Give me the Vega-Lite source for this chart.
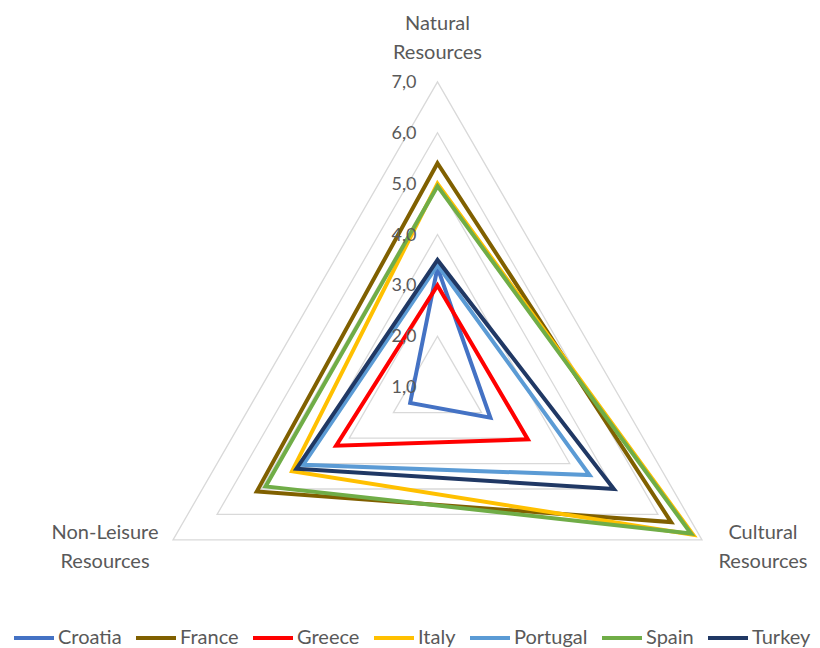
{
  "$schema": "https://vega.github.io/schema/vega-lite/v6.json",
  "width": 820,
  "height": 648,
  "autosize": {"type": "none"},
  "padding": 0,
  "background": "white",
  "config": {"view": {"stroke": null}, "font": "Lato"},
  "datasets": {
    "scores": [
      {"country": "Croatia", "axis": "Natural Resources", "value": 3.35},
      {"country": "Croatia", "axis": "Cultural Resources", "value": 2.2},
      {"country": "Croatia", "axis": "Non-Leisure Resources", "value": 1.62},
      {"country": "France", "axis": "Natural Resources", "value": 5.4},
      {"country": "France", "axis": "Cultural Resources", "value": 6.3},
      {"country": "France", "axis": "Non-Leisure Resources", "value": 5.1},
      {"country": "Greece", "axis": "Natural Resources", "value": 3.0},
      {"country": "Greece", "axis": "Cultural Resources", "value": 3.05},
      {"country": "Greece", "axis": "Non-Leisure Resources", "value": 3.3},
      {"country": "Italy", "axis": "Natural Resources", "value": 5.0},
      {"country": "Italy", "axis": "Cultural Resources", "value": 6.8},
      {"country": "Italy", "axis": "Non-Leisure Resources", "value": 4.3},
      {"country": "Portugal", "axis": "Natural Resources", "value": 3.4},
      {"country": "Portugal", "axis": "Cultural Resources", "value": 4.45},
      {"country": "Portugal", "axis": "Non-Leisure Resources", "value": 4.05},
      {"country": "Spain", "axis": "Natural Resources", "value": 4.95},
      {"country": "Spain", "axis": "Cultural Resources", "value": 6.75},
      {"country": "Spain", "axis": "Non-Leisure Resources", "value": 4.9},
      {"country": "Turkey", "axis": "Natural Resources", "value": 3.5},
      {"country": "Turkey", "axis": "Cultural Resources", "value": 5.0},
      {"country": "Turkey", "axis": "Non-Leisure Resources", "value": 4.2}
    ],
    "grid": [
      {"level": 2, "axis": "Natural Resources"}, {"level": 2, "axis": "Cultural Resources"}, {"level": 2, "axis": "Non-Leisure Resources"},
      {"level": 3, "axis": "Natural Resources"}, {"level": 3, "axis": "Cultural Resources"}, {"level": 3, "axis": "Non-Leisure Resources"},
      {"level": 4, "axis": "Natural Resources"}, {"level": 4, "axis": "Cultural Resources"}, {"level": 4, "axis": "Non-Leisure Resources"},
      {"level": 5, "axis": "Natural Resources"}, {"level": 5, "axis": "Cultural Resources"}, {"level": 5, "axis": "Non-Leisure Resources"},
      {"level": 6, "axis": "Natural Resources"}, {"level": 6, "axis": "Cultural Resources"}, {"level": 6, "axis": "Non-Leisure Resources"},
      {"level": 7, "axis": "Natural Resources"}, {"level": 7, "axis": "Cultural Resources"}, {"level": 7, "axis": "Non-Leisure Resources"}
    ],
    "ticks": [
      {"value": 1}, {"value": 2}, {"value": 3}, {"value": 4}, {"value": 5}, {"value": 6}, {"value": 7}
    ],
    "axes": [
      {"axis": "Natural Resources"},
      {"axis": "Cultural Resources"},
      {"axis": "Non-Leisure Resources"}
    ]
  },
  "layer": [
    {
      "data": {"name": "grid"},
      "transform": [
        {"calculate": "indexof(['Natural Resources','Cultural Resources','Non-Leisure Resources'], datum.axis)", "as": "k"},
        {"calculate": "(datum.level - 1) * sin(datum.k * 2 * PI / 3)", "as": "px"},
        {"calculate": "(datum.level - 1) * cos(datum.k * 2 * PI / 3)", "as": "py"}
      ],
      "mark": {"type": "line", "interpolate": "linear-closed", "stroke": "#D9D9D9", "strokeWidth": 1.3},
      "encoding": {
        "x": {"field": "px", "type": "quantitative", "axis": null, "scale": {"domain": [-8.5953, 7.5147], "nice": false, "zero": false}},
        "y": {"field": "py", "type": "quantitative", "axis": null, "scale": {"domain": [-5.1238, 7.6071], "nice": false, "zero": false}},
        "detail": {"field": "level", "type": "nominal"},
        "order": {"field": "k", "type": "quantitative"}
      }
    },
    {
      "data": {"name": "scores"},
      "transform": [
        {"calculate": "indexof(['Natural Resources','Cultural Resources','Non-Leisure Resources'], datum.axis)", "as": "k"},
        {"calculate": "(datum.value - 1) * sin(datum.k * 2 * PI / 3)", "as": "px"},
        {"calculate": "(datum.value - 1) * cos(datum.k * 2 * PI / 3)", "as": "py"}
      ],
      "mark": {"type": "line", "interpolate": "linear-closed", "strokeWidth": 4},
      "encoding": {
        "x": {"field": "px", "type": "quantitative"},
        "y": {"field": "py", "type": "quantitative"},
        "color": {
          "field": "country",
          "type": "nominal",
          "scale": {
            "domain": ["Croatia", "France", "Greece", "Italy", "Portugal", "Spain", "Turkey"],
            "range": ["#4472C4", "#806000", "#FF0000", "#FFC000", "#5B9BD5", "#70AD47", "#203864"]
          },
          "legend": {
            "orient": "none",
            "legendX": 12,
            "legendY": 616,
            "direction": "horizontal",
            "title": null,
            "symbolType": "stroke",
            "symbolSize": 1600,
            "symbolStrokeWidth": 4,
            "labelFontSize": 20,
            "labelFont": "Lato",
            "labelColor": "#595959",
            "labelOffset": 2,
            "columnPadding": 6
          }
        },
        "order": {"field": "k", "type": "quantitative"}
      }
    },
    {
      "data": {"name": "ticks"},
      "transform": [
        {"calculate": "datum.value - 1", "as": "py"},
        {"calculate": "0", "as": "px"},
        {"calculate": "replace(format(datum.value, '.1f'), '.', ',')", "as": "label"}
      ],
      "mark": {"type": "text", "align": "right", "baseline": "middle", "dx": -21, "dy": 1, "fontSize": 18, "color": "#595959"},
      "encoding": {
        "x": {"field": "px", "type": "quantitative"},
        "y": {"field": "py", "type": "quantitative"},
        "text": {"field": "label"}
      }
    },
    {
      "data": {"name": "axes"},
      "transform": [
        {"filter": "datum.axis == 'Natural Resources'"},
        {"calculate": "0", "as": "px"},
        {"calculate": "6", "as": "py"},
        {"calculate": "split(datum.axis, ' ')", "as": "label"}
      ],
      "mark": {"type": "text", "align": "center", "baseline": "middle", "dy": -58, "fontSize": 20, "lineHeight": 29, "color": "#595959"},
      "encoding": {
        "x": {"field": "px", "type": "quantitative"},
        "y": {"field": "py", "type": "quantitative"},
        "text": {"field": "label"}
      }
    },
    {
      "data": {"name": "axes"},
      "transform": [
        {"filter": "datum.axis == 'Cultural Resources'"},
        {"calculate": "6 * sin(2 * PI / 3)", "as": "px"},
        {"calculate": "6 * cos(2 * PI / 3)", "as": "py"},
        {"calculate": "split(datum.axis, ' ')", "as": "label"}
      ],
      "mark": {"type": "text", "align": "center", "baseline": "middle", "dx": 61, "dy": -7, "fontSize": 20, "lineHeight": 29, "color": "#595959"},
      "encoding": {
        "x": {"field": "px", "type": "quantitative"},
        "y": {"field": "py", "type": "quantitative"},
        "text": {"field": "label"}
      }
    },
    {
      "data": {"name": "axes"},
      "transform": [
        {"filter": "datum.axis == 'Non-Leisure Resources'"},
        {"calculate": "6 * sin(4 * PI / 3)", "as": "px"},
        {"calculate": "6 * cos(4 * PI / 3)", "as": "py"},
        {"calculate": "split(datum.axis, ' ')", "as": "label"}
      ],
      "mark": {"type": "text", "align": "center", "baseline": "middle", "dx": -68, "dy": -7, "fontSize": 20, "lineHeight": 29, "color": "#595959"},
      "encoding": {
        "x": {"field": "px", "type": "quantitative"},
        "y": {"field": "py", "type": "quantitative"},
        "text": {"field": "label"}
      }
    }
  ]
}
